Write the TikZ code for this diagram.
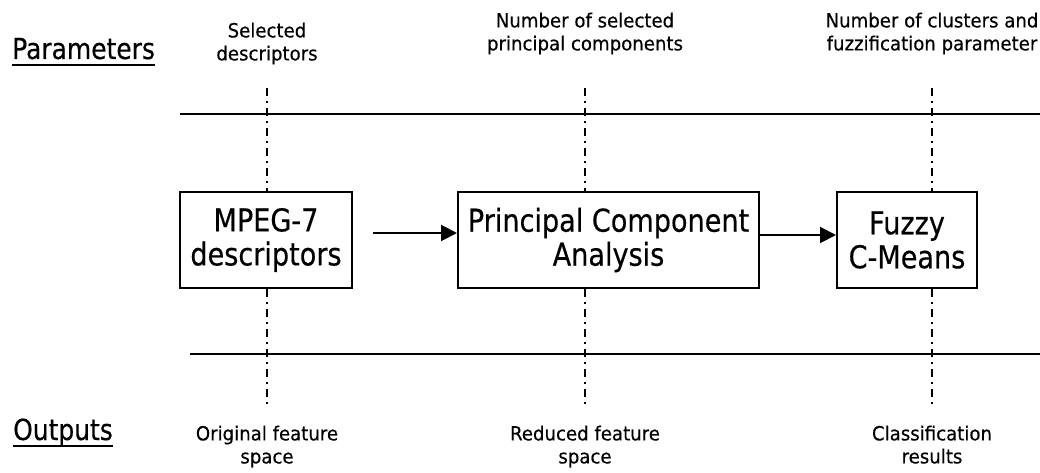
\documentclass[tikz,border=0pt]{standalone}
\usepackage{fontspec}
\setmainfont{DejaVu Sans}[FakeStretch=0.93,FakeBold=0.4]
\newfontfamily\boxfont{DejaVu Sans}[FakeStretch=0.86,FakeBold=0.4]
\usetikzlibrary{arrows.meta}
\tikzset{
  block/.style={draw,line width=2pt,minimum height=96pt,inner sep=0pt,align=center,font=\boxfont\fontsize{31.5}{34}\selectfont},
  heading/.style={inner sep=0pt,anchor=base west,font=\boxfont\fontsize{29}{34}\selectfont},
  note/.style={align=center,inner sep=0pt,text depth=5pt,font=\fontsize{19.5}{23}\selectfont},
  flow/.style={line width=2pt,-{Triangle[length=16pt,width=16pt]}},
  guide/.style={line width=2pt,dash pattern=on 8pt off 5pt on 2pt off 5pt},
  rail/.style={line width=2pt}
}

\begin{document}
\begin{tikzpicture}[x=1pt,y=-1pt]
\useasboundingbox (0,0) rectangle (1040,473);
% headings on the left
\node[heading] (par) at (12,59) {Parameters};
\node[heading] (out) at (13,440) {Outputs};
\draw[rail] ([yshift=-6pt]par.base west) -- ([yshift=-6pt]par.base east);
\draw[rail] ([yshift=-6pt]out.base west) -- ([yshift=-6pt]out.base east);
% the three blocks
\node[block,minimum width=172pt] (mpeg) at (266,240) {MPEG-7\\descriptors};
\node[block,minimum width=301pt] (pca) at (608.5,240) {Principal Component\\Analysis};
\node[block,minimum width=140pt] (fcm) at (907,240) {Fuzzy\\C-Means};
% parameters above
\node[note] (mpeg par) at (267,44) {Selected\\descriptors};
\node[note] (pca par) at (585,34) {Number of selected\\principal components};
\node[note] (fcm par) at (932,34) {Number of clusters and\\fuzzification parameter};
% outputs below
\node[note] (mpeg res) at (267,447) {Original feature\\space};
\node[note] (pca res) at (585,447) {Reduced feature\\space};
\node[note] (fcm res) at (932,447) {Classification\\results};
% horizontal rails
\coordinate (top west) at (180,114);
\coordinate (top east) at (1040,114);
\coordinate (bot west) at (190,354);
\coordinate (bot east) at (1040,354);
\draw[rail] (top west) -- (top east);
\draw[rail] (bot west) -- (bot east);
% dash-dotted guides through the rails
\foreach \blk/\x in {mpeg/267,pca/585,fcm/932} {
  \coordinate (\blk in) at (\x,88);
  \coordinate (\blk out) at (\x,405);
  \draw[guide] (\blk in) -- (\blk in |- \blk.north);
  \draw[guide] (\blk out |- \blk.south) -- (\blk out);
}
% processing chain
\draw[flow] ([xshift=20pt,yshift=7pt]mpeg.east) -- ([yshift=7pt]pca.west);
\draw[flow] ([yshift=5pt]pca.east) -- ([yshift=5pt]fcm.west);
\end{tikzpicture}
\end{document}
